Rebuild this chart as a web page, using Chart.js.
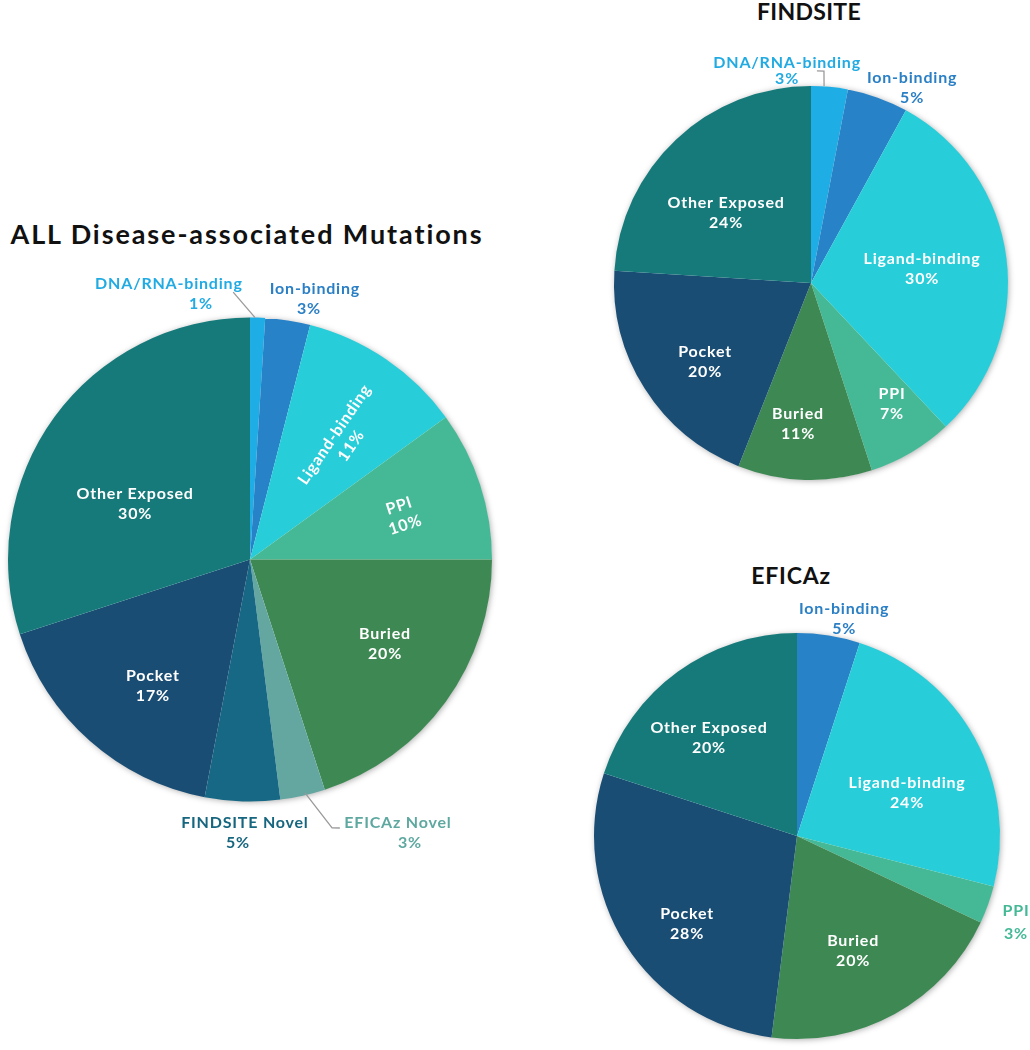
<!DOCTYPE html>
<html><head><meta charset="utf-8">
<script src="https://cdn.jsdelivr.net/npm/chart.js@4.4.0/dist/chart.umd.min.js"></script>
<style>
body{margin:0;background:#fff;width:1030px;height:1050px;position:relative;overflow:hidden;font-family:Lato,"DejaVu Sans",sans-serif}
canvas{position:absolute}
.title{position:absolute;font-weight:bold;color:#111;white-space:nowrap;transform:translateX(-50%);line-height:1}
</style></head><body>
<div class="title" style="left:247px;top:220px;font-size:27px;letter-spacing:1.9px">ALL Disease-associated Mutations</div>
<div class="title" style="left:809px;top:0px;font-size:23px;letter-spacing:0.3px">FINDSITE</div>
<div class="title" style="left:791px;top:564px;font-size:23px;letter-spacing:0.8px">EFICAz</div>
<canvas id="cAll" width="530" height="640" style="left:0;top:250px"></canvas>
<canvas id="cFind" width="430" height="500" style="left:600px;top:0"></canvas>
<canvas id="cEfi" width="450" height="510" style="left:580px;top:540px"></canvas>
<script>
// ---- data ----
const allCategories = ['DNA/RNA-binding','Ion-binding','Ligand-binding','PPI','Buried','EFICAz Novel','FINDSITE Novel','Pocket','Other Exposed'];
const allValues = [1,3,11,10,20,3,5,17,30];
const findsiteCategories = ['DNA/RNA-binding','Ion-binding','Ligand-binding','PPI','Buried','Pocket','Other Exposed'];
const findsiteValues = [3,5,30,7,11,20,24];
const eficazCategories = ['Ion-binding','Ligand-binding','PPI','Buried','Pocket','Other Exposed'];
const eficazValues = [5,24,3,20,28,20];

// ---- styles ----
const sliceColors = {
  'DNA/RNA-binding':'#1EAEE5','Ion-binding':'#2782C7','Ligand-binding':'#27CDD8','PPI':'#45B996',
  'Buried':'#3E8953','EFICAz Novel':'#64A6A0','FINDSITE Novel':'#176884','Pocket':'#1A4D74','Other Exposed':'#167A7B'
};
const outTextColors = {
  'DNA/RNA-binding':'#22ABE3','Ion-binding':'#2A7FC5','PPI':'#45B996','EFICAz Novel':'#5FA8A0','FINDSITE Novel':'#17667F'
};

// label placement (radius factor f, angle offset da in degrees from slice middle)
const allLayout = {
  'DNA/RNA-binding':{out:true,f:1.136,da:-15.5,dx:[-16,16],leader:[[1.0,-0.6],[1.107,-5.4]]},
  'Ion-binding':{out:true,f:1.112,da:4.3,dx:[3,-3]},
  'Ligand-binding':{f:0.625,da:3.3,radial:true},
  'PPI':{f:0.655,da:1.5,radial:true},
  'Buried':{f:0.655,da:-4.4},
  'EFICAz Novel':{out:true,f:1.292,da:-16.9,dx:[-6,6],leader:[[0.991,-0.65],[1.16,-4.4],[1.17,-5.9]]},
  'FINDSITE Novel':{out:true,f:1.124,da:-0.1,dx:[3,-4]},
  'Pocket':{f:0.655,da:-3.6},
  'Other Exposed':{f:0.53,da:-9.6}
};
const findLayout = {
  'DNA/RNA-binding':{out:true,f:1.088,da:-11.8,lh:16,leader:[[1.002,-1.6],[1.078,-1.9],[1.077,-3.8]]},
  'Ion-binding':{out:true,f:1.119,da:7.5},
  'Ligand-binding':{f:0.569,da:-0.5},
  'PPI':{f:0.735,da:-3.4},
  'Buried':{f:0.714,da:3.5},
  'Pocket':{f:0.668,da:-4},
  'Other Exposed':{f:0.562,da:-6.9}
};
const efiLayout = {
  'Ion-binding':{out:true,f:1.099,da:3.2},
  'Ligand-binding':{f:0.584,da:7},
  'PPI':{out:true,f:1.157,da:1.4,lh:23},
  'Buried':{f:0.626,da:2.6},
  'Pocket':{f:0.69,da:-5.9},
  'Other Exposed':{f:0.653,da:-5.6}
};

const pieShadow = {
  id:'pieShadow',
  beforeDatasetsDraw(chart){
    const arc = chart.getDatasetMeta(0).data[0]; if(!arc) return;
    const ctx = chart.ctx;
    ctx.save();
    ctx.shadowColor='rgba(0,0,0,0.35)'; ctx.shadowBlur=6; ctx.shadowOffsetX=1; ctx.shadowOffsetY=1;
    ctx.fillStyle='#ffffff';
    ctx.beginPath(); ctx.arc(arc.x, arc.y, arc.outerRadius-0.5, 0, Math.PI*2); ctx.fill();
    ctx.restore();
  }
};

const pieLabels = {
  id:'pieLabels',
  afterDatasetsDraw(chart, args, opts){
    const ctx = chart.ctx;
    const meta = chart.getDatasetMeta(0);
    const layout = opts.layout || {};
    const labels = chart.data.labels, vals = chart.data.datasets[0].data;
    meta.data.forEach((arc,i)=>{
      const p = layout[labels[i]]; if(!p) return;
      const {x,y,startAngle,endAngle,outerRadius:R} = arc.getProps(['x','y','startAngle','endAngle','outerRadius'], true);
      const mid = (startAngle+endAngle)/2;
      const pt = (f,da)=>{const a = mid+da*Math.PI/180; return [x+R*f*Math.cos(a), y+R*f*Math.sin(a)];};
      if(p.leader){
        ctx.save(); ctx.strokeStyle='#9a9a9a'; ctx.lineWidth=1.3; ctx.beginPath();
        p.leader.forEach((q,j)=>{const [px,py]=pt(q[0],q[1]); j?ctx.lineTo(px,py):ctx.moveTo(px,py);});
        ctx.stroke(); ctx.restore();
      }
      const [lx,ly] = pt(p.f,p.da);
      const lines = [labels[i], vals[i]+'%'];
      ctx.save(); ctx.translate(lx,ly); if(p.radial) ctx.rotate(mid);
      ctx.font = 'bold 16px Lato, "DejaVu Sans", sans-serif';
      if('letterSpacing' in ctx) ctx.letterSpacing = '0.8px';
      ctx.fillStyle = p.out ? (outTextColors[labels[i]]||sliceColors[labels[i]]) : '#ffffff';
      ctx.textAlign='center'; ctx.textBaseline='middle';
      const lh = p.lh || 20;
      lines.forEach((t,k)=>{ ctx.fillText(t, p.dx?p.dx[k]:0, (k-(lines.length-1)/2)*lh + 1); });
      ctx.restore();
    });
  }
};

function makePie(id, cats, vals, layout, padding){
  return new Chart(document.getElementById(id), {
    type:'pie',
    data:{labels:cats, datasets:[{data:vals, backgroundColor:cats.map(c=>sliceColors[c]), borderWidth:0, hoverOffset:0, offset:0}]},
    options:{
      responsive:false, animation:false, events:[],
      layout:{padding:padding},
      plugins:{legend:{display:false}, title:{display:false}, tooltip:{enabled:false}, pieLabels:{layout:layout}}
    },
    plugins:[pieShadow, pieLabels]
  });
}
makePie('cAll', allCategories, allValues, allLayout, {left:8, right:38, top:67.5, bottom:88.5});
makePie('cFind', findsiteCategories, findsiteValues, findLayout, {left:14, right:22, top:86, bottom:20});
makePie('cEfi', eficazCategories, eficazValues, efiLayout, {left:14, right:30, top:93, bottom:11});
</script>
</body></html>
